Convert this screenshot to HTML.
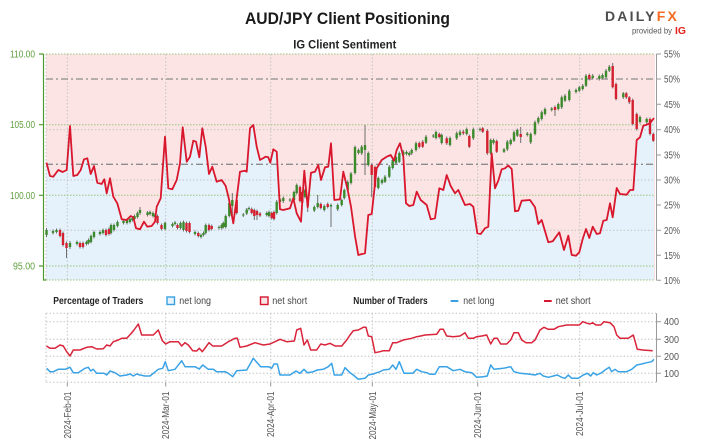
<!DOCTYPE html>
<html><head><meta charset="utf-8"><style>
html,body{margin:0;padding:0;background:#fff;width:701px;height:448px;overflow:hidden}
svg{display:block}
</style></head><body>
<svg width="701" height="448" viewBox="0 0 701 448" font-family="Liberation Sans, Arial, sans-serif">
<rect x="0" y="0" width="701" height="448" fill="#fff"/>
<!-- Title -->
<text x="245" y="24" font-size="16.5" font-weight="bold" fill="#1a1a1a" textLength="205" lengthAdjust="spacingAndGlyphs">AUD/JPY Client Positioning</text>
<text x="293.3" y="48.3" font-size="11.5" font-weight="bold" fill="#222" textLength="103" lengthAdjust="spacingAndGlyphs">IG Client Sentiment</text>
<!-- Logo -->
<text x="605" y="21" font-size="14" font-weight="bold" fill="#4d4d4d" letter-spacing="2.2">DAILY<tspan fill="#f26b21">FX</tspan></text>
<text x="632" y="33.5" font-size="8" fill="#555" textLength="40" lengthAdjust="spacingAndGlyphs">provided by</text>
<text x="675" y="34" font-size="10.5" font-weight="bold" fill="#e2231a" textLength="11" lengthAdjust="spacingAndGlyphs">IG</text>

<!-- Main plot background -->
<rect x="46" y="54" width="609" height="226" fill="#fce4e5"/>
<path fill="#e5f2fb" d="M46,162.7 L46.5,162.7 L50,176 L53.3,176.7 L58.3,170 L62.7,172 L66.7,170 L70,126 L73.3,176 L77.3,175 L80.7,170 L84,159.3 L87.3,158.3 L90.7,174 L94,166 L97.3,182.7 L101.7,184 L104.3,179.3 L106.7,193.3 L110,178.3 L113.3,196.7 L117.3,203.3 L121.7,219.3 L126.7,220 L130.7,216 L133.3,217.3 L136,228.3 L140,229.3 L144,221.7 L147.3,226.7 L151.7,226 L155,221.7 L156.7,206.7 L160.7,198.3 L165,136.7 L168.3,188.3 L172.3,189.3 L176.7,180 L180,163.3 L182.7,127.3 L186.7,161.7 L190,156.7 L193.3,140.7 L196,141.7 L199.3,157.3 L202.3,128.3 L205.7,146.7 L209,174 L212.3,166.7 L216.7,181.7 L221.7,180 L225.7,186 L229,199.3 L233.3,223.3 L236.7,198.3 L240,171.7 L245,170.7 L246.7,171.7 L250,128.3 L253.3,125 L256.7,146.7 L260,160 L265.7,156.7 L268.3,157.3 L270.3,162.7 L273.3,149.3 L276.7,151.7 L280,209.3 L283.3,210 L290,208.3 L293.3,198.3 L296.7,213.3 L301,221.7 L304.3,170.7 L307.7,207.3 L311,172.7 L315,171.7 L318.3,165 L321,180 L325,167.3 L328.3,166.7 L331,143.3 L334.3,200 L340,199.3 L343.3,171.7 L347.7,190 L351,206.7 L355,236 L358.3,255 L365,253.3 L368.3,215 L371.7,214 L376.7,168.3 L381.7,160 L386.7,156.7 L390.7,155 L394,160.7 L396.7,150 L400,143.3 L403.3,156.7 L406,203.3 L409.3,206 L413.3,205 L416.7,191.7 L420.7,200 L426.7,205 L430.7,219.3 L435,218.3 L439.3,188.3 L443.3,190 L446.7,175 L450.7,186 L455,193.3 L458.3,190 L465,205 L470,204 L473.3,206.7 L477.3,233.3 L480.7,234 L485,228.3 L488.3,226.7 L491.7,153.3 L495,188.3 L498.3,180.7 L501.7,169.3 L505,168.3 L508.3,165.5 L511.7,169 L515,211.3 L518.3,210.7 L521.7,200.7 L530,200 L535,207.3 L538.3,224 L541.7,220 L548.3,242.3 L552.7,241.3 L559.3,232.3 L564,250 L568.3,235.7 L571.7,255 L576,255.7 L579.3,252.3 L582.7,239 L586,229 L589.3,238 L592.7,226.7 L596.7,234 L600,233.3 L603.3,220.7 L606.7,220 L610,203.3 L612.7,217.3 L616.7,188 L620,194 L626.7,194.7 L630,190 L633.3,190 L636.7,140 L640,137.3 L643.3,125.7 L646.7,124.7 L650,123.3 L654,118 L654,280 L46,280 Z"/>

<!-- grid -->
<g stroke="#c4c4c4" stroke-width="1" stroke-dasharray="1.5,2" fill="none">
<path d="M67.3,54V280 M165.7,54V280 M270.7,54V280 M372.3,54V280 M477.7,54V280 M579.7,54V280 M46,54V280"/>
<path d="M46,129.7H655 M46,180H655 M46,230.3H655"/>
</g>
<g stroke="#9cc47e" stroke-width="1" stroke-dasharray="1.5,1.5" fill="none">
<path d="M46,54H655 M46,124.7H655 M46,195.3H655 M46,266H655 M46,280H655"/>
</g>
<g stroke="#8c8c8c" stroke-width="1.3" stroke-dasharray="7,3,2,3" fill="none">
<path d="M46,79H655 M46,164.3H655"/>
</g>

<!-- candle wicks -->
<path fill="none" stroke="#6e6e6e" stroke-width="1" d="M46.5,228V237 M53,229.5V234.5 M56.5,228.5V233.5 M70,241V249 M77,240.5V245.5 M86.5,240.5V245.5 M88.5,238.5V244.5 M91,234.5V243.5 M94,230.5V238.5 M100,230.5V235.5 M103,228.5V234.5 M111,223.5V234.5 M114,223.5V231.5 M117.5,220.5V227.5 M123.5,219.5V224.5 M127,218.5V224.5 M130,217.5V223.5 M132.5,216.5V221.5 M134.5,214.5V220.5 M137.5,211.5V218.5 M140,207V215 M147.5,211V216.5 M150,210.5V215.5 M153,211.5V217.5 M155,213.5V218.5 M165,221.5V230.5 M172.5,222.5V227.5 M175,221V225.5 M180.5,221.5V229.5 M183.5,220.5V231.5 M195,230.5V235.5 M201,233.5V238.5 M203.5,231.5V236.5 M205.7,223.5V234.5 M219,225.5V229.5 M221.7,223.5V229.5 M223.3,221.5V228.5 M225.7,214.5V228.5 M229.3,201.5V217.5 M232.3,193V215 M243.3,213V217 M246.7,208V215 M249,206.5V210.5 M266.7,211.5V216.5 M269,210.5V217.5 M276.7,200V214.5 M280,198V203.5 M283.3,196.5V203 M290,198V202 M294,190.5V201.5 M296.7,183.5V194.5 M305,188.5V198.5 M307.7,198.5V212 M314.3,205.5V212 M317.7,195V208.5 M324.3,204.5V211.5 M331,203.5V227 M337.7,203.5V211 M341.7,198.5V206.5 M344.3,188.5V199.5 M347.7,180.5V191.5 M351,172V184.5 M355,145.5V174.5 M358.5,148.5V154.5 M361.7,145V155 M365,125V175 M368.3,151.5V166.5 M378.3,176.5V189.5 M382,178.5V184.5 M385,175V183 M389.3,165V178 M392.7,158.5V169.5 M396,155.5V164.5 M399.3,151.5V163 M403.3,150V156.5 M406.5,150.5V155.5 M409.3,151.5V156.5 M411.7,148.5V155 M416,141.5V151.5 M426,135V144 M433.3,134V138 M436,130.5V139.5 M441.7,133.5V144.5 M450,136.5V146.5 M456.7,131.5V140 M460,130V136.5 M466.7,127.5V135.5 M473.3,127.5V140 M480,127.5V131.5 M490.7,138.5V155 M493.5,138.5V144.5 M504,148V153 M507.3,140V151 M510.7,138.5V145.5 M514,130.5V142 M517.3,128.5V137 M527.3,132V136.5 M530.7,132.5V144 M535,120.5V135.5 M538.3,116.5V124 M541.7,110.5V120.5 M545,107.5V115.5 M551.7,107V111.5 M558.3,102.5V110.5 M561.7,95.5V109 M565,94V102 M569.3,89V101.5 M576,88.5V93.5 M579.3,86V92 M582.7,84V90.5 M586,74V87 M592.7,74V79.5 M599.3,74.5V80.5 M602.5,73.5V79.5 M606,69V78.5 M609.3,65V72 M623.3,92V99 M640,115.5V123.5 M646.7,117.5V124 M60,228.5V237.5 M63,231.5V246.5 M66.5,241.5V258 M80,241.5V248.5 M83,241.5V248.5 M106,228.5V236.5 M109,227.5V235.5 M157.5,214.5V224.5 M161.5,223.5V230.5 M177.5,223.5V229.5 M186.5,221.5V232.5 M189.5,221.5V233.5 M198.3,231.5V237.5 M209,223.5V231.5 M211.7,224.5V230.5 M236.7,198.5V214.5 M251.7,207.5V214.5 M254.3,208.5V220 M257,209.5V220 M260,212V217 M271.7,211.5V219.5 M274,210.5V220.5 M300,185.5V202.5 M302.3,190.5V204 M320.8,202.5V209.5 M327.7,202.5V208.5 M371.7,163.5V197 M375,165.5V188.5 M419.3,141.5V148.5 M422.7,140V148 M439.3,132.5V138.5 M446.7,136.5V145 M463.3,130V135 M469.3,134.5V148 M482.7,127V133 M487.3,129V155 M496.7,139.5V153 M520.7,127V143 M555,105.5V116 M589.3,73.5V80.5 M612.7,63V88.5 M616,82.5V100.5 M626.3,92V99 M629.3,96V104 M632.7,98.5V125.5 M636.7,112.5V130.5 M650,117.5V135.5 M653.3,132.5V142"/>
<!-- green bodies -->
<path fill="#3b8a2c" d="M45.3,230h2.4V235h-2.4z M51.8,231h2.4V233h-2.4z M55.3,230h2.4V232h-2.4z M68.8,243h2.4V247h-2.4z M75.8,242h2.4V244h-2.4z M85.3,242h2.4V244h-2.4z M87.3,240h2.4V243h-2.4z M89.8,236h2.4V242h-2.4z M92.8,232h2.4V237h-2.4z M98.8,232h2.4V234h-2.4z M101.8,230h2.4V233h-2.4z M109.8,225h2.4V233h-2.4z M112.8,225h2.4V230h-2.4z M116.3,222h2.4V226h-2.4z M122.3,221h2.4V223h-2.4z M125.8,220h2.4V223h-2.4z M128.8,219h2.4V222h-2.4z M131.3,218h2.4V220h-2.4z M133.3,216h2.4V219h-2.4z M136.3,213h2.4V217h-2.4z M138.8,210h2.4V213h-2.4z M146.3,212.5h2.4V215h-2.4z M148.8,212h2.4V214h-2.4z M151.8,213h2.4V216h-2.4z M153.8,215h2.4V217h-2.4z M163.8,223h2.4V229h-2.4z M171.3,224h2.4V226h-2.4z M173.8,222.5h2.4V224h-2.4z M179.3,223h2.4V228h-2.4z M182.3,222h2.4V230h-2.4z M193.8,232h2.4V234h-2.4z M199.8,235h2.4V237h-2.4z M202.3,233h2.4V235h-2.4z M204.5,225h2.4V233h-2.4z M217.8,227h2.4V228h-2.4z M220.5,225h2.4V228h-2.4z M222.1,223h2.4V227h-2.4z M224.5,216h2.4V227h-2.4z M228.1,203h2.4V216h-2.4z M231.1,200h2.4V206h-2.4z M242.1,214.5h2.4V215.5h-2.4z M245.5,209.5h2.4V213.5h-2.4z M247.8,208h2.4V209h-2.4z M265.5,213h2.4V215h-2.4z M267.8,212h2.4V216h-2.4z M275.5,201.7h2.4V213h-2.4z M278.8,199.3h2.4V202h-2.4z M282.1,198h2.4V201h-2.4z M288.8,199.5h2.4V200.5h-2.4z M292.8,192h2.4V200h-2.4z M295.5,185h2.4V193h-2.4z M303.8,190h2.4V197h-2.4z M306.5,200h2.4V206h-2.4z M313.1,207h2.4V210.5h-2.4z M316.5,203h2.4V207h-2.4z M323.1,206h2.4V210h-2.4z M329.8,205h2.4V206.5h-2.4z M336.5,205h2.4V209.3h-2.4z M340.5,200h2.4V205h-2.4z M343.1,190h2.4V198h-2.4z M346.5,182h2.4V190h-2.4z M349.8,173.5h2.4V183h-2.4z M353.8,147h2.4V173h-2.4z M357.3,150h2.4V153h-2.4z M360.5,146.7h2.4V153.3h-2.4z M363.8,145h2.4V150h-2.4z M367.1,153h2.4V165h-2.4z M377.1,178h2.4V188h-2.4z M380.8,180h2.4V183h-2.4z M383.8,176.7h2.4V181.7h-2.4z M388.1,166.7h2.4V176.7h-2.4z M391.5,160h2.4V168h-2.4z M394.8,157h2.4V163h-2.4z M398.1,153h2.4V161.7h-2.4z M402.1,151.7h2.4V155h-2.4z M405.3,152h2.4V154h-2.4z M408.1,153h2.4V155h-2.4z M410.5,150h2.4V153.3h-2.4z M414.8,143.3h2.4V150h-2.4z M424.8,136.7h2.4V142.7h-2.4z M432.1,135.5h2.4V136.5h-2.4z M434.8,132h2.4V138h-2.4z M440.5,135h2.4V143h-2.4z M448.8,138h2.4V145h-2.4z M455.5,133.3h2.4V138.3h-2.4z M458.8,131.7h2.4V135h-2.4z M465.5,129h2.4V134h-2.4z M472.1,129.3h2.4V138.3h-2.4z M478.8,129h2.4V130h-2.4z M489.5,140h2.4V153.3h-2.4z M492.3,140h2.4V143h-2.4z M502.8,149.3h2.4V151.7h-2.4z M506.1,141.7h2.4V149.3h-2.4z M509.5,140h2.4V144h-2.4z M512.8,132.3h2.4V140.7h-2.4z M516.1,130h2.4V135.7h-2.4z M526.1,133.5h2.4V135h-2.4z M529.5,134h2.4V142.3h-2.4z M533.8,122.3h2.4V134h-2.4z M537.1,118h2.4V122.3h-2.4z M540.5,112.3h2.4V119h-2.4z M543.8,109h2.4V114h-2.4z M550.5,108.5h2.4V110h-2.4z M557.1,104h2.4V109h-2.4z M560.5,97.3h2.4V107.3h-2.4z M563.8,95.7h2.4V100.7h-2.4z M568.1,90.7h2.4V100h-2.4z M574.8,90h2.4V92h-2.4z M578.1,87.3h2.4V90.7h-2.4z M581.5,85.7h2.4V89h-2.4z M584.8,75.7h2.4V85.7h-2.4z M591.5,75.7h2.4V78h-2.4z M598.1,76h2.4V79h-2.4z M601.3,75h2.4V78h-2.4z M604.8,70.7h2.4V77.3h-2.4z M608.1,66.7h2.4V70.7h-2.4z M622.1,93.3h2.4V97.3h-2.4z M638.8,117h2.4V122h-2.4z M645.5,119h2.4V122.3h-2.4z"/>
<!-- red bodies -->
<path fill="#d3212f" d="M58.8,230h2.4V236h-2.4z M61.8,233h2.4V245h-2.4z M65.3,243h2.4V248h-2.4z M78.8,243h2.4V247h-2.4z M81.8,243h2.4V247h-2.4z M104.8,230h2.4V235h-2.4z M107.8,229h2.4V234h-2.4z M156.3,216h2.4V223h-2.4z M160.3,225h2.4V229h-2.4z M176.3,225h2.4V228h-2.4z M185.3,223h2.4V231h-2.4z M188.3,223h2.4V232h-2.4z M197.1,233h2.4V236h-2.4z M207.8,225h2.4V230h-2.4z M210.5,226h2.4V229h-2.4z M235.5,200h2.4V213h-2.4z M250.5,209h2.4V213h-2.4z M253.1,210h2.4V216h-2.4z M255.8,211h2.4V215h-2.4z M258.8,213.5h2.4V215.5h-2.4z M270.5,213h2.4V218h-2.4z M272.8,212h2.4V219h-2.4z M298.8,187h2.4V201h-2.4z M301.1,192h2.4V202.5h-2.4z M319.6,204h2.4V208h-2.4z M326.5,204h2.4V207h-2.4z M370.5,165h2.4V175h-2.4z M373.8,167h2.4V187h-2.4z M418.1,143h2.4V147h-2.4z M421.5,141.7h2.4V146.7h-2.4z M438.1,134h2.4V137h-2.4z M445.5,138.3h2.4V143.3h-2.4z M462.1,131.7h2.4V133.3h-2.4z M468.1,136h2.4V146.7h-2.4z M481.5,128.3h2.4V131.7h-2.4z M486.1,130.7h2.4V153.3h-2.4z M495.5,141h2.4V151.7h-2.4z M519.5,134h2.4V137h-2.4z M553.8,107h2.4V110h-2.4z M588.1,75h2.4V79h-2.4z M611.5,66h2.4V87.3h-2.4z M614.8,84h2.4V99h-2.4z M625.1,93.3h2.4V97.3h-2.4z M628.1,97.3h2.4V102.3h-2.4z M631.5,100h2.4V124h-2.4z M635.5,114h2.4V129h-2.4z M648.8,119h2.4V134h-2.4z M652.1,134h2.4V140.7h-2.4z"/>

<!-- sentiment line -->
<path fill="none" stroke="#d9162c" stroke-width="1.8" stroke-linejoin="round" d="M46.5,162.7 L50,176 L53.3,176.7 L58.3,170 L62.7,172 L66.7,170 L70,126 L73.3,176 L77.3,175 L80.7,170 L84,159.3 L87.3,158.3 L90.7,174 L94,166 L97.3,182.7 L101.7,184 L104.3,179.3 L106.7,193.3 L110,178.3 L113.3,196.7 L117.3,203.3 L121.7,219.3 L126.7,220 L130.7,216 L133.3,217.3 L136,228.3 L140,229.3 L144,221.7 L147.3,226.7 L151.7,226 L155,221.7 L156.7,206.7 L160.7,198.3 L165,136.7 L168.3,188.3 L172.3,189.3 L176.7,180 L180,163.3 L182.7,127.3 L186.7,161.7 L190,156.7 L193.3,140.7 L196,141.7 L199.3,157.3 L202.3,128.3 L205.7,146.7 L209,174 L212.3,166.7 L216.7,181.7 L221.7,180 L225.7,186 L229,199.3 L233.3,223.3 L236.7,198.3 L240,171.7 L245,170.7 L246.7,171.7 L250,128.3 L253.3,125 L256.7,146.7 L260,160 L265.7,156.7 L268.3,157.3 L270.3,162.7 L273.3,149.3 L276.7,151.7 L280,209.3 L283.3,210 L290,208.3 L293.3,198.3 L296.7,213.3 L301,221.7 L304.3,170.7 L307.7,207.3 L311,172.7 L315,171.7 L318.3,165 L321,180 L325,167.3 L328.3,166.7 L331,143.3 L334.3,200 L340,199.3 L343.3,171.7 L347.7,190 L351,206.7 L355,236 L358.3,255 L365,253.3 L368.3,215 L371.7,214 L376.7,168.3 L381.7,160 L386.7,156.7 L390.7,155 L394,160.7 L396.7,150 L400,143.3 L403.3,156.7 L406,203.3 L409.3,206 L413.3,205 L416.7,191.7 L420.7,200 L426.7,205 L430.7,219.3 L435,218.3 L439.3,188.3 L443.3,190 L446.7,175 L450.7,186 L455,193.3 L458.3,190 L465,205 L470,204 L473.3,206.7 L477.3,233.3 L480.7,234 L485,228.3 L488.3,226.7 L491.7,153.3 L495,188.3 L498.3,180.7 L501.7,169.3 L505,168.3 L508.3,165.5 L511.7,169 L515,211.3 L518.3,210.7 L521.7,200.7 L530,200 L535,207.3 L538.3,224 L541.7,220 L548.3,242.3 L552.7,241.3 L559.3,232.3 L564,250 L568.3,235.7 L571.7,255 L576,255.7 L579.3,252.3 L582.7,239 L586,229 L589.3,238 L592.7,226.7 L596.7,234 L600,233.3 L603.3,220.7 L606.7,220 L610,203.3 L612.7,217.3 L616.7,188 L620,194 L626.7,194.7 L630,190 L633.3,190 L636.7,140 L640,137.3 L643.3,125.7 L646.7,124.7 L650,123.3 L654,118"/>

<!-- left axis -->
<path fill="none" stroke="#4f9a2f" stroke-width="1.2" d="M43.5,54V280H46 M39,54H43.5 M39,124.7H43.5 M39,195.3H43.5 M39,266H43.5"/>
<g font-size="10" fill="#5f9e3c">
<text x="10" y="57.5" textLength="25" lengthAdjust="spacingAndGlyphs">110.00</text>
<text x="10" y="128.2" textLength="25" lengthAdjust="spacingAndGlyphs">105.00</text>
<text x="10" y="198.8" textLength="25" lengthAdjust="spacingAndGlyphs">100.00</text>
<text x="13" y="269.5" textLength="22" lengthAdjust="spacingAndGlyphs">95.00</text>
</g>
<!-- right axis -->
<path fill="none" stroke="#9a9a9a" stroke-width="1" d="M656.5,54V280.3 M656.5,54H661 M656.5,79H661 M656.5,104.3H661 M656.5,129.7H661 M656.5,155H661 M656.5,180H661 M656.5,205H661 M656.5,230.3H661 M656.5,255.3H661 M656.5,280.3H661"/>
<g font-size="10" fill="#555">
<text x="664" y="57.5" textLength="16" lengthAdjust="spacingAndGlyphs">55%</text>
<text x="664" y="82.5" textLength="16" lengthAdjust="spacingAndGlyphs">50%</text>
<text x="664" y="107.8" textLength="16" lengthAdjust="spacingAndGlyphs">45%</text>
<text x="664" y="133.2" textLength="16" lengthAdjust="spacingAndGlyphs">40%</text>
<text x="664" y="158.5" textLength="16" lengthAdjust="spacingAndGlyphs">35%</text>
<text x="664" y="183.5" textLength="16" lengthAdjust="spacingAndGlyphs">30%</text>
<text x="664" y="208.5" textLength="16" lengthAdjust="spacingAndGlyphs">25%</text>
<text x="664" y="233.8" textLength="16" lengthAdjust="spacingAndGlyphs">20%</text>
<text x="664" y="258.8" textLength="16" lengthAdjust="spacingAndGlyphs">15%</text>
<text x="664" y="283.8" textLength="16" lengthAdjust="spacingAndGlyphs">10%</text>
</g>

<!-- legend -->
<text x="53.3" y="303.8" font-size="10" font-weight="bold" fill="#222" textLength="90" lengthAdjust="spacingAndGlyphs">Percentage of Traders</text>
<rect x="167" y="297" width="7.5" height="7.5" fill="#e6f3fb" stroke="#3aa0e0" stroke-width="1.4"/>
<text x="179.3" y="303.8" font-size="10" fill="#444" textLength="31.7" lengthAdjust="spacingAndGlyphs">net long</text>
<rect x="260.5" y="297" width="7.5" height="7.5" fill="#fbe4e4" stroke="#d7172f" stroke-width="1.4"/>
<text x="272.3" y="303.8" font-size="10" fill="#444" textLength="35" lengthAdjust="spacingAndGlyphs">net short</text>
<text x="353.3" y="303.8" font-size="10" font-weight="bold" fill="#222" textLength="74.4" lengthAdjust="spacingAndGlyphs">Number of Traders</text>
<path d="M450.7,301H458.3" stroke="#3aa0e0" stroke-width="2"/>
<text x="463.3" y="303.8" font-size="10" fill="#444" textLength="31" lengthAdjust="spacingAndGlyphs">net long</text>
<path d="M544,301H551.7" stroke="#d7172f" stroke-width="2"/>
<text x="555.7" y="303.8" font-size="10" fill="#444" textLength="35" lengthAdjust="spacingAndGlyphs">net short</text>

<!-- lower panel grid -->
<g stroke="#c4c4c4" stroke-width="1" stroke-dasharray="1.5,2" fill="none">
<path d="M46,313.3H656 M46,382.3H656 M46,321.7H656 M46,339.3H656 M46,356.3H656 M46,373.3H656 M46,313.3V382.3 M67.3,313.3V382.3 M165.7,313.3V382.3 M270.7,313.3V382.3 M372.3,313.3V382.3 M477.7,313.3V382.3 M579.7,313.3V382.3"/>
</g>
<path fill="none" stroke="#9a9a9a" stroke-width="1" d="M656.5,313.3V382.3 M656.5,321.7H661 M656.5,339.3H661 M656.5,356.3H661 M656.5,373.3H661 M67.3,382.3V386.5 M165.7,382.3V386.5 M270.7,382.3V386.5 M372.3,382.3V386.5 M477.7,382.3V386.5 M579.7,382.3V386.5"/>
<g font-size="10" fill="#555">
<text x="664" y="325.2" textLength="15" lengthAdjust="spacingAndGlyphs">400</text>
<text x="664" y="342.8" textLength="15" lengthAdjust="spacingAndGlyphs">300</text>
<text x="664" y="359.8" textLength="15" lengthAdjust="spacingAndGlyphs">200</text>
<text x="664" y="376.8" textLength="15" lengthAdjust="spacingAndGlyphs">100</text>
</g>
<!-- lower lines -->
<path fill="none" stroke="#d9243a" stroke-width="1.5" stroke-linejoin="round" d="M46.5,346 L50,348.3 L55,348.3 L60,345 L63.3,346 L66.7,351.7 L70,356 L73.3,350 L80,350 L86.7,347.3 L91.7,346.7 L96.7,349 L103.3,348.7 L106.7,345 L110,346 L113.3,341.7 L118.3,340 L121.7,338.3 L126.7,338.3 L130.7,334 L134,330 L138.3,324 L141.7,335 L153.3,335 L158.3,330 L162.3,340.7 L165.7,344 L170,341.7 L178.3,341.7 L181.7,346 L185,342.7 L188.3,345 L192.7,350.7 L196.7,351 L199.3,348.3 L202.3,351.7 L209,342.7 L212.7,346 L221.7,346 L228.3,341.7 L235,338.3 L237.3,338.3 L240,347.3 L246.7,346 L255,342.7 L263.3,345 L270,344 L275,341.7 L280,339.3 L286.7,341.7 L294.3,341 L296.7,330 L300.7,328.3 L304,345 L307.3,340 L310.7,350 L316.7,350 L320.7,344 L325,345 L330,343.3 L335,346 L341.7,346 L346.7,340 L350,335 L353.3,330.7 L358.3,330 L363.3,327.3 L366,327.3 L368.3,336 L371.7,336.7 L375,352.7 L380,351.7 L383.3,350.7 L389.3,350.7 L392.7,342.7 L396.7,342.7 L403.3,340 L411.7,338.3 L416.7,336.7 L420.7,336 L425,335 L436.7,334.3 L440,329.3 L443.3,329.3 L446.7,336 L453.3,336.7 L460,336 L465,332.7 L468.3,338.3 L473.3,338.3 L476.7,336.7 L481.7,336 L486.7,335 L490.7,344 L494,338.3 L497.3,338.3 L500.7,344 L506.7,344 L510.7,340 L514,332.7 L518.3,332.7 L521.7,340 L526,342.7 L531.7,342.7 L535,340 L540,330 L544,327.3 L548.3,329.3 L554,329.3 L558.3,326.7 L566.7,325 L579.3,325 L582.7,321.7 L587.3,323.3 L590,324 L592.7,322.7 L596,325 L600.7,325 L604,321.7 L610,322.7 L614,326.7 L616.7,335 L620,338.3 L628.3,338.3 L633.3,335 L637.3,349.3 L642.7,350 L652.7,350.7"/>
<path fill="none" stroke="#3aa3e6" stroke-width="1.5" stroke-linejoin="round" d="M46.7,368.3 L50,371.7 L53.3,371.7 L58.3,369.3 L65,369.3 L70,367.3 L73.3,372.7 L78.3,372.7 L85,368.3 L88.3,367.3 L90.7,371 L93.3,369.3 L96.7,373.3 L104,373.3 L106.7,375 L110,371 L115,372.7 L120,376 L126.7,375 L130,374 L133.3,376 L136.7,374 L140,375 L145,376 L150,376 L153.3,373.3 L158.3,369.3 L162.7,368.3 L165.3,361.7 L168.3,370.7 L175,369.3 L181.7,360.7 L185,366.7 L195,366.7 L199.3,369 L202.7,365 L208.3,369.3 L213.3,369.3 L216.7,371.7 L225,371.7 L228.3,373.3 L232.7,376.7 L236.7,370.7 L246.7,370 L253.3,358.3 L260.7,366.7 L268.3,366.7 L271.7,368.3 L274,364 L277.3,364 L280,375 L290,375 L296,371 L300,373.3 L304,369.3 L307.3,372.7 L313.3,371.7 L317.3,370 L323.3,369.3 L328.3,366.7 L331.7,363.3 L334.3,375 L341.7,375 L345,367.7 L350,372.7 L353.3,375 L358.3,379.3 L365,378.3 L368.3,375 L373.3,374 L376.7,372.7 L380,371.7 L383.3,370 L389.3,369.3 L392.7,365 L396,369.3 L399.3,361.7 L404,373.3 L412.7,373.3 L416.7,369.3 L421.7,371.7 L426.7,372.7 L430,374.3 L435,374.3 L439.3,366.7 L446.7,366.7 L453.3,370.7 L460,369.3 L465,371.7 L471.7,372.7 L476.7,377.3 L483.3,376.7 L487.3,376 L490.7,365 L494,369.3 L503.3,368.3 L510.7,366.7 L514,371.7 L520,373.3 L530,374.3 L535,375 L540,373.3 L543.3,376 L548.3,377.3 L553.3,376 L557.3,375 L561.7,377.3 L565,378.3 L568.3,375 L571.7,378.3 L578.3,378.3 L583.3,375 L587.3,373.3 L590.7,376 L593.3,372.7 L596.7,375 L601.7,372.7 L605,370 L609.3,367.3 L611.7,371.7 L615,369.3 L618.3,371.7 L626.7,371.7 L631.7,369.3 L636.7,365 L641.7,364 L646.7,362.7 L651.7,361.7 L654,359.3"/>

<!-- x-axis labels -->
<g font-size="10" fill="#555" text-anchor="end">
<text transform="translate(70.8,391.5) rotate(-90)" textLength="47" lengthAdjust="spacingAndGlyphs">2024-Feb-01</text>
<text transform="translate(169.2,391.5) rotate(-90)" textLength="47.5" lengthAdjust="spacingAndGlyphs">2024-Mar-01</text>
<text transform="translate(274.2,391.5) rotate(-90)" textLength="45.5" lengthAdjust="spacingAndGlyphs">2024-Apr-01</text>
<text transform="translate(375.8,391.5) rotate(-90)" textLength="48" lengthAdjust="spacingAndGlyphs">2024-May-01</text>
<text transform="translate(481.2,391.5) rotate(-90)" textLength="46.5" lengthAdjust="spacingAndGlyphs">2024-Jun-01</text>
<text transform="translate(583.2,391.5) rotate(-90)" textLength="44.5" lengthAdjust="spacingAndGlyphs">2024-Jul-01</text>
</g>
</svg>
</body></html>
